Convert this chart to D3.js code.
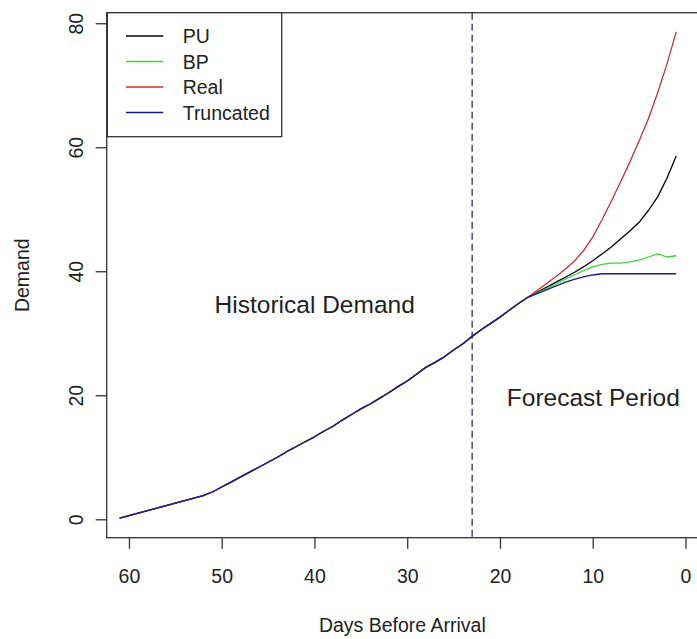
<!DOCTYPE html>
<html>
<head>
<meta charset="utf-8">
<script src="https://cdn.jsdelivr.net/npm/d3@7"></script>
<style>
  html, body { margin: 0; padding: 0; background: #fff; }
  svg { display: block; }
  text { font-family: "Liberation Sans", Arial, sans-serif; fill: #222; }
</style>
</head>
<body>
<div id="chart"></div>
<script>
// Shared booking history (days before arrival -> cumulative demand)
const histDays = [61,60,59,58,57,56,55,54,53,52,51,50,49,48,47,46,45,44,43,42,41,40,
  39,38,37,36,35,34,33,32,31,30,29,28,27,26,25,24,23,22,21,20,19,18,17];
const histDemand = [0.2,0.6,1.0,1.4,1.8,2.2,2.6,3.0,3.4,3.8,4.4,5.2,6.0,6.8,7.6,8.4,9.2,10.0,10.9,11.7,12.5,13.3,
  14.2,15.0,16.0,16.9,17.8,18.6,19.5,20.4,21.4,22.3,23.4,24.5,25.3,26.2,27.3,28.3,29.5,30.6,31.6,32.6,33.7,34.8,35.8];

// Forecast horizon, one value per day for each method
const fcDays = [17,16,15,14,13,12,11,10,9,8,7,6,5,4,3,2,1];
const puDemand   = [35.8,36.6,37.4,38.2,39.0,39.8,40.7,41.7,42.8,43.9,45.2,46.5,47.9,49.8,52.0,55.0,58.6];
const bpDemand   = [35.8,36.5,37.2,37.9,38.7,39.4,40.1,40.7,41.1,41.3,41.3,41.5,41.8,42.3,42.8,42.3,42.5];
const realDemand = [35.8,36.9,38.0,39.1,40.3,41.6,43.3,45.5,48.3,51.3,54.4,57.6,61.0,64.6,68.8,73.4,78.6];
const truncDemand= [35.8,36.4,37.0,37.6,38.2,38.7,39.1,39.4,39.6,39.6,39.6,39.6,39.6,39.6,39.6,39.6,39.6];

const seriesNames  = ["PU", "BP", "Real", "Truncated"];
const seriesColors = ["#000000", "#3fd23f", "#cc2f2f", "#1a1a8a"];
const seriesValues = [puDemand, bpDemand, realDemand, truncDemand];

const xTicks = [60, 50, 40, 30, 20, 10, 0];
const yTicks = [0, 20, 40, 60, 80];
const cutoffDay = 23;

const W = 697, H = 639;
const plot = { left: 106.7, right: 698, top: 12.7, bottom: 537.7 };
const axisColor = "#333";
const fontSize = 19.5;

const svg = d3.select("#chart").append("svg")
  .attr("width", W).attr("height", H);

const x = d3.scaleLinear().domain([62.4, -1.35]).range([plot.left, plot.right]);
const y = d3.scaleLinear().domain([-2.97, 81.7]).range([plot.bottom, plot.top]);

// Build full series: shared history followed by the method's forecast
const series = seriesNames.map((name, i) => {
  const pts = histDays.slice(0, -1).map((d, j) => ({ d, v: histDemand[j] }));
  fcDays.forEach((d, j) => pts.push({ d, v: seriesValues[i][j] }));
  return { name, color: seriesColors[i], pts };
});

const line = d3.line().x(p => x(p.d)).y(p => y(p.v));

// Cutoff between history and forecast
svg.append("line")
  .attr("x1", x(cutoffDay)).attr("x2", x(cutoffDay))
  .attr("y1", plot.top).attr("y2", plot.bottom)
  .attr("stroke", "#2a2a7a").attr("stroke-width", 1.3)
  .attr("stroke-dasharray", "7,4");

svg.append("g").selectAll("path")
  .data(series).join("path")
  .attr("d", s => line(s.pts))
  .attr("fill", "none")
  .attr("stroke", s => s.color)
  .attr("stroke-width", 1.3)
  .attr("stroke-linejoin", "round");

// Plot frame
svg.append("rect")
  .attr("x", plot.left).attr("y", plot.top)
  .attr("width", plot.right - plot.left).attr("height", plot.bottom - plot.top)
  .attr("fill", "none").attr("stroke", axisColor).attr("stroke-width", 1.3);

// Bottom axis
const xAxis = svg.append("g")
  .attr("transform", `translate(0,${plot.bottom})`)
  .call(d3.axisBottom(x).tickValues(xTicks).tickSize(11).tickPadding(0).tickFormat(d3.format("d")));
xAxis.select(".domain").remove();
xAxis.selectAll("line").attr("stroke", axisColor).attr("stroke-width", 1.3);
xAxis.selectAll("text").attr("dy", null).attr("y", 45).attr("font-size", fontSize)
  .attr("font-family", "Liberation Sans, Arial, sans-serif").attr("fill", "#222");

// Left axis with rotated labels
const yAxis = svg.append("g")
  .attr("transform", `translate(${plot.left},0)`)
  .call(d3.axisLeft(y).tickValues(yTicks).tickSize(11).tickFormat(d3.format("d")));
yAxis.select(".domain").remove();
yAxis.selectAll("line").attr("stroke", axisColor).attr("stroke-width", 1.3);
yAxis.selectAll("text")
  .attr("x", null).attr("dy", null)
  .attr("transform", "translate(-24,0) rotate(-90)")
  .attr("text-anchor", "middle")
  .attr("font-size", fontSize)
  .attr("font-family", "Liberation Sans, Arial, sans-serif").attr("fill", "#222");

// Axis titles
svg.append("text")
  .attr("x", (plot.left + plot.right) / 2).attr("y", 632)
  .attr("text-anchor", "middle").attr("font-size", fontSize)
  .text("Days Before Arrival");
svg.append("text")
  .attr("transform", `translate(29,${(plot.top + plot.bottom) / 2}) rotate(-90)`)
  .attr("text-anchor", "middle").attr("font-size", fontSize)
  .text("Demand");

// Region annotations
svg.append("text")
  .attr("x", 314.7).attr("y", 313).attr("text-anchor", "middle")
  .attr("font-size", 24.5).text("Historical Demand");
svg.append("text")
  .attr("x", 593.3).attr("y", 406).attr("text-anchor", "middle")
  .attr("font-size", 24.5).text("Forecast Period");

// Legend
const legend = svg.append("g");
legend.append("rect")
  .attr("x", 107.3).attr("y", 12.7).attr("width", 174.4).attr("height", 124)
  .attr("fill", "#fff").attr("stroke", axisColor).attr("stroke-width", 1.3);
const rowY = [36, 61.5, 87, 112.5];
seriesNames.forEach((name, i) => {
  legend.append("line")
    .attr("x1", 126).attr("x2", 163.3).attr("y1", rowY[i]).attr("y2", rowY[i])
    .attr("stroke", seriesColors[i]).attr("stroke-width", 1.3);
  legend.append("text")
    .attr("x", 182.7).attr("y", rowY[i]).attr("dy", "0.36em")
    .attr("font-size", fontSize).text(name);
});
</script>
</body>
</html>
